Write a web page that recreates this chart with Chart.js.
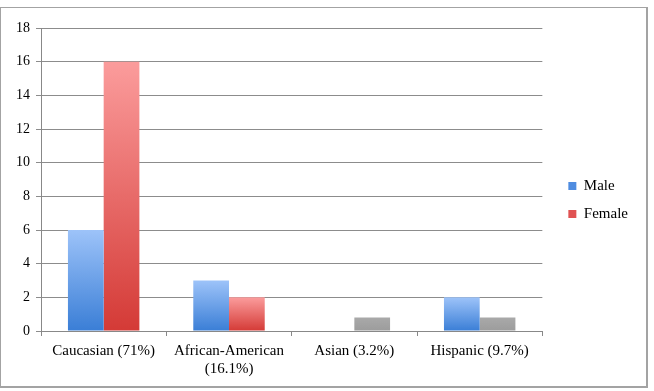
<!DOCTYPE html>
<html>
<head>
<meta charset="utf-8">
<script src="https://cdn.jsdelivr.net/npm/chart.js@4/dist/chart.umd.min.js"></script>
<style>
  body { margin: 0; background: #fff; }
  #frame { position: absolute; left: 0; top: 7px; width: 645px; height: 378px; border: 2px solid #a3a3a3; border-top-width: 1px; border-left-width: 1px; }
  canvas { display: block; }
</style>
</head>
<body>
<div id="frame"><canvas id="c" width="645" height="378"></canvas></div>
<script>
  // chart data
  var categories = ['Caucasian (71%)', ['African-American', '(16.1%)'], 'Asian (3.2%)', 'Hispanic (9.7%)'];
  var maleValues = [6, 3, 0, 2];
  var femaleValues = [16, 2, 0.8, 0.8];
  var yTicks = [0, 2, 4, 6, 8, 10, 12, 14, 16, 18];
  // Female bars for Asian / Hispanic are grey in the original
  var femaleGrey = [false, false, true, true];

  // vertical gradient from the top of each bar down to the baseline
  function barGradient(top, bottom) {
    return function (context) {
      var chart = context.chart;
      var y = chart.scales && chart.scales.y;
      if (!chart.chartArea || !y || context.raw === undefined) return bottom;
      var yTop = y.getPixelForValue(context.raw);
      var yBase = y.getPixelForValue(0);
      if (!isFinite(yTop) || yBase - yTop < 1) return bottom;
      var g = chart.ctx.createLinearGradient(0, yTop, 0, yBase);
      g.addColorStop(0, top);
      g.addColorStop(1, bottom);
      return g;
    };
  }

  var maleFill = barGradient('#9dc3f9', '#3a7ed6');
  var redFill = barGradient('#fb9c9c', '#d43a36');
  var greyFill = barGradient('#a9a9a9', '#9c9c9c');

  var serif = '"Liberation Serif", "DejaVu Serif", serif';

  // nudge the legend a bit, like the original sits
  var legendNudge = {
    id: 'legendNudge',
    afterLayout: function (chart) {
      var lg = chart.legend;
      lg.left += 13; lg.right += 13;
      lg.top -= 6; lg.bottom -= 6;
    }
  };

  new Chart(document.getElementById('c'), {
    type: 'bar',
    data: {
      labels: categories,
      datasets: [
        {
          label: 'Male',
          data: maleValues,
          backgroundColor: maleFill,
          barPercentage: 1,
          categoryPercentage: 0.57
        },
        {
          label: 'Female',
          data: femaleValues,
          backgroundColor: function (context) {
            if (femaleGrey[context.dataIndex]) return greyFill(context);
            return redFill(context);
          },
          barPercentage: 1,
          categoryPercentage: 0.57
        }
      ]
    },
    options: {
      responsive: false,
      animation: false,
      layout: { padding: { top: 20, left: 9, right: 21, bottom: 2 } },
      plugins: {
        tooltip: { enabled: false },
        legend: {
          position: 'right',
          labels: {
            boxWidth: 8,
            boxHeight: 8,
            padding: 13,
            color: '#000',
            font: { family: serif, size: 15 },
            generateLabels: function (chart) {
              var cols = ['#4f8ce0', '#e05252'];
              return chart.data.datasets.map(function (ds, i) {
                return { text: ds.label, fillStyle: cols[i], strokeStyle: cols[i], lineWidth: 0, datasetIndex: i };
              });
            }
          }
        }
      },
      scales: {
        x: {
          grid: { display: true, offset: true, drawOnChartArea: false, drawTicks: true, tickLength: 5, color: '#888' },
          border: { color: '#888' },
          ticks: { color: '#000', font: { family: serif, size: 15 }, maxRotation: 0, autoSkip: false, padding: 6 }
        },
        y: {
          min: 0,
          max: 18,
          afterBuildTicks: function (axis) {
            axis.ticks = yTicks.map(function (v) { return { value: v }; });
          },
          grid: { color: '#8c8c8c', tickLength: 5 },
          border: { color: '#888' },
          ticks: { color: '#000', font: { family: serif, size: 14 }, padding: 6 }
        }
      }
    },
    plugins: [legendNudge]
  });
</script>
</body>
</html>
